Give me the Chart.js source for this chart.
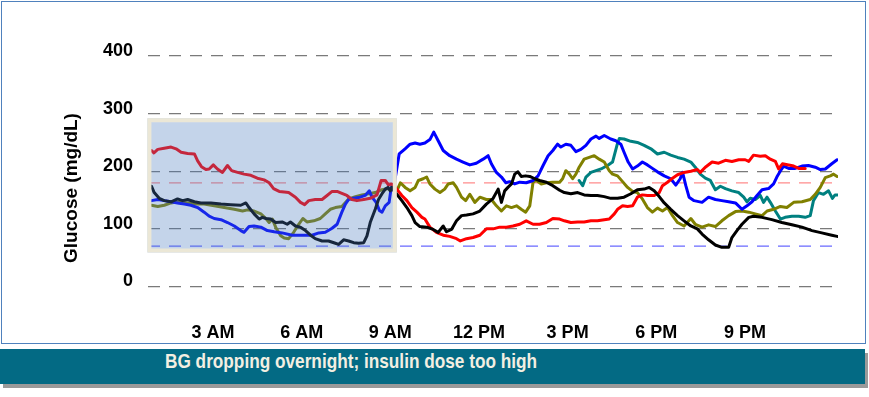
<!DOCTYPE html>
<html>
<head>
<meta charset="utf-8">
<script src="https://cdn.jsdelivr.net/npm/chart.js@4.4.1/dist/chart.umd.min.js"></script>
<style>
  html, body { margin: 0; padding: 0; background: #ffffff; }
  #frame { position: absolute; left: 1px; top: 1px; width: 863px; height: 341px; border: 1px solid #4f81bd; }
  #wrap { position: absolute; left: 0; top: 0; width: 869px; height: 345px; }
  #bar { position: absolute; left: 0; top: 349px; width: 865px; height: 35px; background: #036a84;
         box-shadow: 3px 4px 0 #9a9a9a; }
  #bar span { position: absolute; left: 165px; top: 0; line-height: 35px; color: #f3efe2;
         font: bold 21px Arial, "Liberation Sans", sans-serif; white-space: nowrap;
         transform: scaleX(0.82); transform-origin: 0 50%; }
</style>
</head>
<body>
<div id="frame"></div>
<div id="wrap"><canvas id="c" width="869" height="345"></canvas></div>
<div id="bar"><span>BG dropping overnight; insulin dose too high</span></div>
<script>
// ---- data: [hour of day, glucose mg/dL] ----
const xTickValues = [3, 6, 9, 12, 15, 18, 21];
const xTickLabels = ['3 AM', '6 AM', '9 AM', '12 PM', '3 PM', '6 PM', '9 PM'];
const yTickValues = [0, 100, 200, 300, 400];
const targetHigh = 180;
const targetLow = 70;
const overnightWindow = [0.78, 9.22];   // hours
const overnightBand = [59, 292];        // mg/dL

const redDay = [[0.92,236],[1.0,232],[1.13,238],[1.35,240],[1.58,242],[1.75,239],[1.92,233],[2.14,231],[2.37,230],[2.48,218],[2.61,208],[2.76,203],[2.87,204],[3.01,211],[3.15,204],[3.32,198],[3.49,210],[3.63,201],[3.83,198],[4.05,195],[4.28,193],[4.5,188],[4.73,185],[4.9,180],[5.05,170],[5.24,165],[5.41,164],[5.56,163],[5.79,155],[5.96,146],[6.1,142],[6.24,149],[6.46,151],[6.69,151],[6.86,158],[7.03,165],[7.2,165],[7.34,162],[7.53,158],[7.7,151],[7.87,149],[8.1,151],[8.32,153],[8.55,159],[8.69,184],[8.83,184],[8.94,176],[9.05,178],[9.22,169],[9.39,158],[9.56,149],[9.73,137],[9.9,129],[10.07,120],[10.17,117],[10.34,103],[10.56,94],[10.79,89],[11.01,87],[11.24,83],[11.37,79],[11.58,83],[11.8,85],[12.03,89],[12.25,100],[12.48,100],[12.7,103],[12.93,103],[13.15,105],[13.38,108],[13.6,114],[13.83,108],[14.05,108],[14.28,111],[14.5,118],[14.73,117],[14.89,114],[15.11,111],[15.34,112],[15.56,112],[15.79,114],[16.01,114],[16.24,116],[16.41,117],[16.58,126],[16.69,134],[16.86,140],[17.03,139],[17.2,140],[17.36,155],[17.53,159],[17.7,158],[17.93,158],[18.1,163],[18.21,175],[18.38,181],[18.55,188],[18.72,194],[18.94,198],[19.17,200],[19.39,203],[19.49,198],[19.66,207],[19.89,216],[20.11,214],[20.34,219],[20.56,217],[20.79,220],[21.01,220],[21.13,217],[21.29,228],[21.52,226],[21.69,227],[21.86,221],[22.03,217],[22.14,204],[22.27,213],[22.48,211],[22.65,209],[22.82,205],[23.04,205]];

const blueDay = [[0.92,149],[1.13,151],[1.35,149],[1.58,147],[1.8,145],[2.03,143],[2.25,141],[2.48,137],[2.7,129],[2.87,122],[3.04,118],[3.27,116],[3.49,111],[3.72,105],[3.94,97],[4.05,94],[4.22,104],[4.39,105],[4.62,103],[4.84,97],[5.07,95],[5.34,93],[5.68,89],[6.01,89],[6.35,89],[6.58,93],[6.8,94],[7.03,101],[7.2,108],[7.36,129],[7.48,143],[7.59,151],[7.76,153],[7.98,155],[8.15,158],[8.29,166],[8.38,155],[8.52,146],[8.63,132],[8.72,129],[8.83,140],[8.96,146],[9.03,172],[9.1,168],[9.22,205],[9.3,230],[9.5,239],[9.67,247],[9.84,249],[10.0,247],[10.17,249],[10.34,255],[10.47,268],[10.62,253],[10.79,236],[11.01,227],[11.24,221],[11.46,216],[11.69,211],[11.91,214],[12.14,221],[12.31,227],[12.42,213],[12.59,198],[12.76,190],[12.91,180],[13.04,182],[13.21,178],[13.38,181],[13.6,180],[13.83,184],[14.0,192],[14.17,210],[14.34,227],[14.5,236],[14.66,247],[14.77,242],[14.94,247],[15.11,245],[15.28,234],[15.45,238],[15.62,245],[15.79,256],[15.96,261],[16.07,257],[16.24,262],[16.46,256],[16.63,253],[16.8,247],[16.91,233],[17.05,216],[17.2,204],[17.36,209],[17.53,216],[17.7,211],[17.87,205],[18.04,199],[18.27,192],[18.49,187],[18.66,176],[18.81,187],[18.89,198],[19.0,175],[19.11,155],[19.28,149],[19.55,146],[19.77,155],[20.0,151],[20.22,149],[20.45,147],[20.68,145],[20.9,134],[21.07,140],[21.24,147],[21.41,158],[21.58,168],[21.8,170],[21.97,178],[22.08,190],[22.23,203],[22.31,209],[22.48,205],[22.7,205],[22.93,209],[23.15,210],[23.38,207],[23.55,203],[23.72,204],[23.94,213],[24.12,220]];

const blackDay = [[0.92,174],[1.01,163],[1.18,153],[1.35,149],[1.58,147],[1.8,152],[1.97,149],[2.14,151],[2.37,147],[2.59,145],[2.93,145],[3.27,143],[3.6,142],[3.94,141],[4.11,145],[4.22,137],[4.39,126],[4.56,117],[4.67,120],[4.79,118],[4.95,117],[5.12,111],[5.34,112],[5.51,108],[5.62,112],[5.79,105],[5.96,103],[6.13,97],[6.3,89],[6.46,83],[6.69,79],[6.91,79],[7.14,75],[7.25,73],[7.42,81],[7.59,79],[7.76,76],[7.93,75],[8.1,76],[8.21,88],[8.32,111],[8.49,134],[8.6,151],[8.72,161],[8.83,169],[8.92,172],[9.0,166],[9.05,172],[9.22,160],[9.39,149],[9.56,137],[9.73,123],[9.84,111],[10.0,104],[10.23,103],[10.45,99],[10.62,94],[10.79,105],[10.9,95],[11.07,99],[11.24,114],[11.41,123],[11.58,124],[11.8,126],[12.03,131],[12.25,143],[12.48,153],[12.65,169],[12.76,146],[12.87,166],[12.98,172],[13.1,178],[13.21,195],[13.32,199],[13.43,191],[13.58,192],[13.72,191],[13.89,187],[14.05,184],[14.28,181],[14.5,175],[14.73,167],[14.89,163],[15.11,161],[15.34,163],[15.56,159],[15.79,158],[16.01,158],[16.24,156],[16.46,153],[16.69,153],[16.91,155],[17.14,161],[17.36,168],[17.59,169],[17.76,172],[17.93,166],[18.1,156],[18.27,145],[18.49,134],[18.72,123],[18.94,114],[19.17,105],[19.39,100],[19.55,91],[19.77,81],[20.0,72],[20.22,68],[20.45,68],[20.56,85],[20.73,97],[20.9,108],[21.13,120],[21.29,122],[21.58,120],[21.91,116],[22.25,111],[22.59,107],[22.93,103],[23.27,97],[23.6,93],[23.94,89],[24.12,87]];

const oliveDay = [[0.92,141],[1.13,139],[1.35,141],[1.58,145],[1.8,147],[2.03,146],[2.37,143],[2.7,143],[3.04,140],[3.38,137],[3.72,134],[4.0,131],[4.17,133],[4.39,131],[4.62,126],[4.79,118],[4.9,111],[5.01,117],[5.12,103],[5.29,88],[5.41,84],[5.56,83],[5.73,94],[5.9,108],[6.04,118],[6.18,112],[6.41,114],[6.63,118],[6.8,126],[6.97,134],[7.14,137],[7.36,139],[7.59,152],[7.82,156],[8.04,159],[8.27,161],[8.49,163],[8.72,168],[8.94,170],[9.05,168],[9.22,166],[9.34,180],[9.5,172],[9.67,166],[9.84,172],[9.95,184],[10.11,187],[10.23,190],[10.34,178],[10.51,169],[10.68,163],[10.84,169],[10.96,178],[11.13,180],[11.24,172],[11.41,155],[11.55,149],[11.69,160],[11.86,146],[12.03,155],[12.25,151],[12.42,151],[12.59,140],[12.76,131],[12.93,140],[13.1,137],[13.27,140],[13.43,134],[13.58,129],[13.72,140],[13.83,181],[13.94,184],[14.11,178],[14.28,180],[14.5,181],[14.73,181],[14.83,187],[14.94,201],[15.06,195],[15.17,187],[15.28,195],[15.39,207],[15.56,221],[15.73,224],[15.9,227],[16.07,221],[16.24,216],[16.41,201],[16.52,195],[16.69,192],[16.86,182],[17.03,172],[17.2,165],[17.36,163],[17.53,152],[17.7,137],[17.87,129],[18.04,136],[18.21,131],[18.38,137],[18.55,123],[18.72,111],[18.94,105],[19.17,118],[19.32,108],[19.55,103],[19.77,107],[20.0,104],[20.22,114],[20.45,123],[20.68,130],[20.9,131],[21.13,129],[21.35,126],[21.58,123],[21.75,131],[21.97,134],[22.2,139],[22.42,137],[22.65,146],[22.93,147],[23.21,151],[23.38,160],[23.55,172],[23.72,189],[23.89,192],[24.0,195],[24.12,191]];

const tealDay = [[15.39,184],[15.51,175],[15.62,190],[15.79,198],[15.96,201],[16.13,204],[16.35,210],[16.52,216],[16.67,245],[16.75,257],[16.91,256],[17.14,252],[17.36,250],[17.59,245],[17.82,239],[18.04,230],[18.27,233],[18.49,228],[18.72,224],[18.94,221],[19.17,216],[19.32,207],[19.49,195],[19.66,188],[19.83,184],[20.0,168],[20.17,174],[20.34,170],[20.56,166],[20.79,163],[20.96,155],[21.07,147],[21.18,153],[21.35,151],[21.52,158],[21.63,146],[21.75,155],[21.86,146],[22.03,131],[22.2,117],[22.36,120],[22.59,122],[22.82,122],[23.04,120],[23.21,123],[23.32,149],[23.49,163],[23.66,160],[23.83,166],[23.96,153],[24.05,159],[24.12,159]];

const X_MIN = 0.8, X_MAX = 24.15;

const toPts = arr => arr.map(p => ({ x: p[0], y: p[1] }));
const lineDs = (arr, color) => ({
  data: toPts(arr), borderColor: color, borderWidth: 3, pointRadius: 0,
  tension: 0, fill: false, borderJoinStyle: 'round', borderCapStyle: 'round'
});

const overnightPlugin = {
  id: 'overnight',
  afterDatasetsDraw(chart) {
    const { ctx, scales: { x, y } } = chart;
    const x0 = x.getPixelForValue(overnightWindow[0]);
    const x1 = x.getPixelForValue(overnightWindow[1]);
    const y0 = y.getPixelForValue(overnightBand[1]);
    const y1 = y.getPixelForValue(overnightBand[0]);
    ctx.save();
    ctx.fillStyle = 'rgba(70,120,190,0.32)';
    ctx.fillRect(x0, y0, x1 - x0, y1 - y0);
    ctx.strokeStyle = '#ebe7d6';
    ctx.lineWidth = 4;
    ctx.strokeRect(x0 + 2, y0 + 2, x1 - x0 - 4, y1 - y0 - 4);
    ctx.restore();
  }
};

const yTitlePlugin = {
  id: 'ytitle',
  afterDraw(chart) {
    const ctx = chart.ctx;
    ctx.save();
    ctx.translate(72, 188);
    ctx.rotate(-Math.PI / 2);
    ctx.font = 'bold 19px Arial, "Liberation Sans", sans-serif';
    ctx.fillStyle = '#000';
    ctx.textAlign = 'center';
    ctx.textBaseline = 'middle';
    ctx.fillText('Glucose (mg/dL)', 0, 0);
    ctx.restore();
  }
};

new Chart(document.getElementById('c'), {
  type: 'line',
  data: {
    datasets: [
      lineDs(blackDay, '#000000'),
      lineDs(redDay, '#ff0000'),
      lineDs(blueDay, '#0000ff'),
      lineDs(oliveDay, '#808000'),
      lineDs(tealDay, '#008080'),
      { data: [{x: X_MIN, y: targetHigh}, {x: X_MAX, y: targetHigh}], borderColor: '#ff8c8c', borderWidth: 1.2,
        borderDash: [12, 9], pointRadius: 0, fill: false },
      { data: [{x: X_MIN, y: targetLow}, {x: X_MAX, y: targetLow}], borderColor: '#6a6aff', borderWidth: 1.2,
        borderDash: [12, 9], pointRadius: 0, fill: false }
    ]
  },
  options: {
    responsive: false,
    animation: false,
    devicePixelRatio: 1,
    layout: { padding: { top: 33, right: 31, left: 0, bottom: 0 } },
    plugins: { legend: { display: false }, tooltip: { enabled: false } },
    scales: {
      x: {
        type: 'linear', min: X_MIN, max: X_MAX,
        grid: { display: false },
        border: { display: false },
        afterBuildTicks: s => { s.ticks = xTickValues.map(v => ({ value: v })); },
        afterFit: s => { s.height = 47; },
        ticks: {
          padding: 16, color: '#000', maxRotation: 0, autoSkip: false,
          font: { family: 'Arial, "Liberation Sans", sans-serif', size: 18, weight: 'bold' },
          callback: v => { const i = xTickValues.indexOf(v); return i >= 0 ? xTickLabels[i] : ''; }
        }
      },
      y: {
        min: -20, max: 440,
        grid: { color: '#7a7a7a', lineWidth: 1.3, drawTicks: false },
        border: { display: false, dash: [12, 9] },
        afterBuildTicks: s => { s.ticks = yTickValues.map(v => ({ value: v })); },
        afterFit: s => { s.width = 148; },
        ticks: {
          padding: 15, color: '#000', labelOffset: -5,
          font: { family: 'Arial, "Liberation Sans", sans-serif', size: 18, weight: 'bold' }
        }
      }
    }
  },
  plugins: [overnightPlugin, yTitlePlugin]
});
</script>
</body>
</html>
